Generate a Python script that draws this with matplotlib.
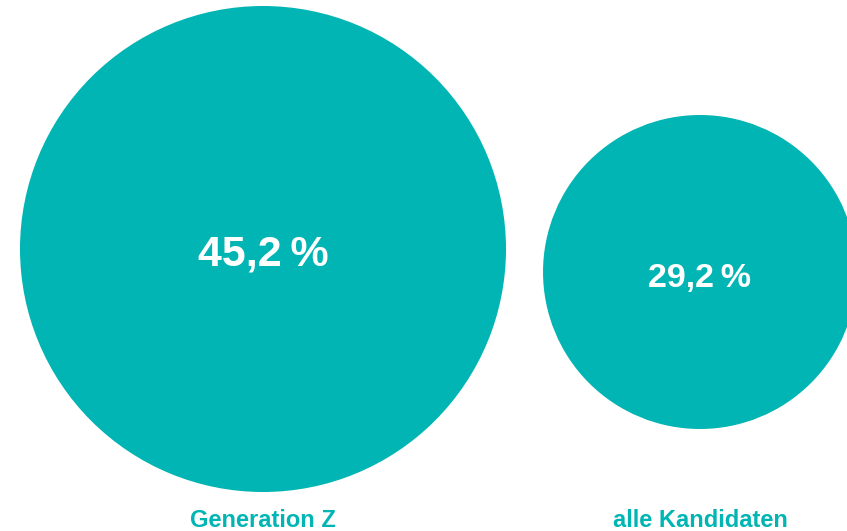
import matplotlib
matplotlib.use("Agg")
import matplotlib.pyplot as plt
from matplotlib.patches import Circle

categories = ["Generation Z", "alle Kandidaten"]
values = [45.2, 29.2]
value_labels = ["45,2\u2009%", "29,2\u2009%"]

color = "#00B5B3"
W, H = 847, 531
fig = plt.figure(figsize=(W / 100, H / 100), dpi=100)
ax = fig.add_axes([0, 0, 1, 1])
ax.set_xlim(0, W)
ax.set_ylim(H, 0)
ax.set_aspect("equal")
ax.axis("off")

scale = 243 / 45.2          # px radius per percent point
centers = [(263, 249), (700, 272)]
baseline_offsets = [16, 15]
font_sizes = [31, 24.5]
fam = ["Liberation Sans", "DejaVu Sans"]

for cat, v, lab, (cx, cy), off, fs in zip(categories, values, value_labels, centers,
                                           baseline_offsets, font_sizes):
    r = v * scale
    ax.add_patch(Circle((cx, cy), r, facecolor=color, edgecolor="none"))
    ax.text(cx, cy + off, lab, color="white", fontsize=fs, fontweight="bold",
            ha="center", va="baseline", family=fam)
    ax.text(cx, 527, cat, color=color, fontsize=17, fontweight="bold",
            ha="center", va="baseline", family=fam)

fig.savefig("out.png", dpi=100)
